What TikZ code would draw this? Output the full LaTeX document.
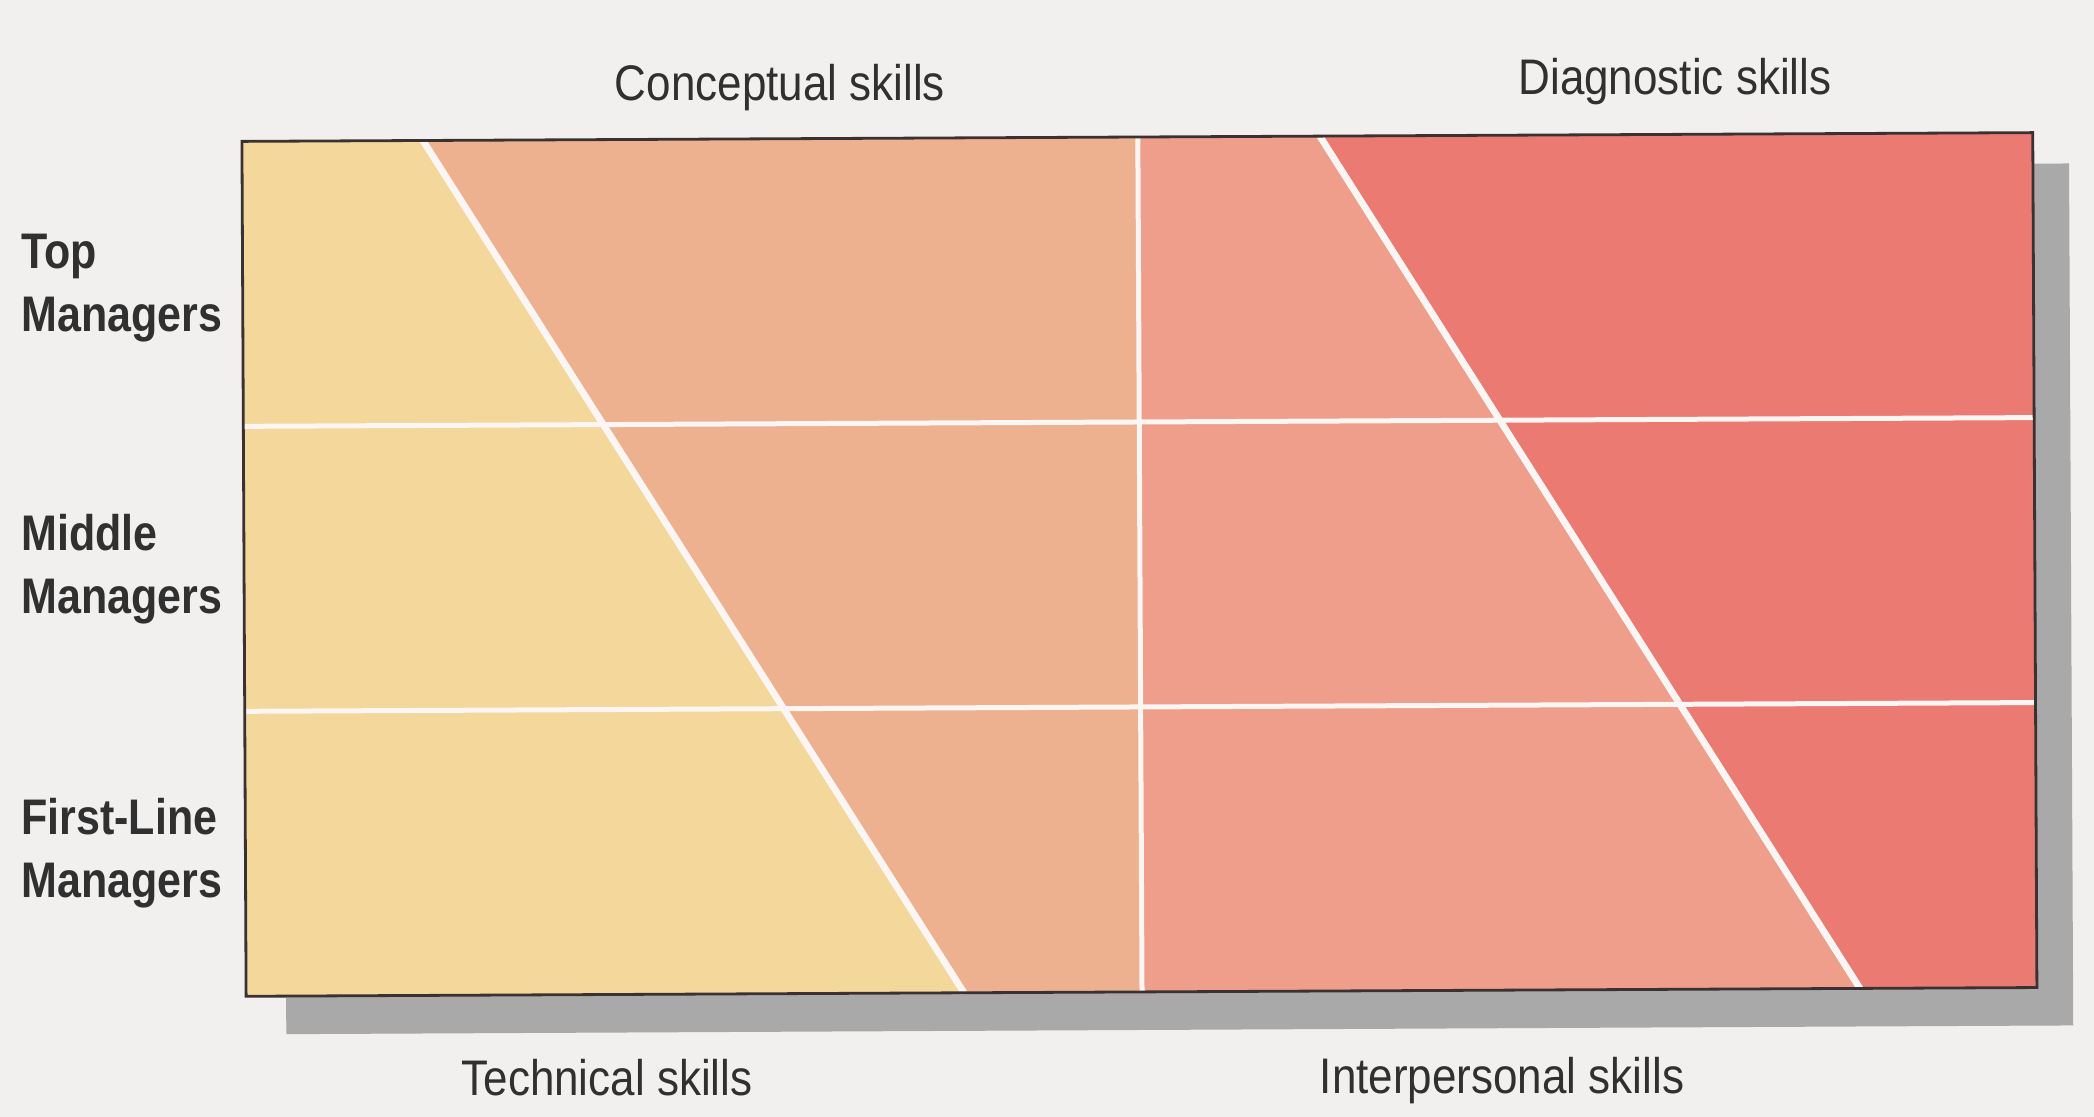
\documentclass[tikz,border=0pt]{standalone}
\usepackage{fontspec}
\newfontfamily\colfont[FakeStretch=0.88]{Liberation Sans}
\newfontfamily\rowfont[FakeStretch=0.86]{Liberation Sans}
\definecolor{pagebg}{HTML}{F1F0EF}
\definecolor{shadowgray}{HTML}{A9A9A9}
\definecolor{techcol}{HTML}{F4D79A}
\definecolor{conccol}{HTML}{EEB18F}
\definecolor{intercol}{HTML}{EE9E8A}
\definecolor{diagcol}{HTML}{EA7A72}
\definecolor{linewhite}{HTML}{FBF6F3}
\definecolor{framecol}{HTML}{3A3232}
\definecolor{textcol}{HTML}{303030}
\begin{document}
\begin{tikzpicture}[x=0.5pt,y=-0.5pt,
  collabel/.style={font=\colfont\fontsize{25}{31.5}\selectfont, text=textcol, anchor=base, inner sep=0pt},
  rowlabel/.style={font=\rowfont\bfseries\fontsize{25}{31.5}\selectfont, text=textcol, anchor=base west, align=left, inner sep=0pt},
  gridline/.style={draw=linewhite, line width=2.5pt},
  diagline/.style={draw=linewhite, line width=3.4pt},
  frame/.style={draw=framecol, line width=1.4pt}]
\useasboundingbox (0,0) rectangle (2094,1117);
\fill[pagebg] (0,0) rectangle (2094,1117);
\begin{scope}[rotate around={0.28:(1140,564)}]
  % corner and split coordinates
  \coordinate (tl) at (244,137);
  \coordinate (tr) at (2035,137);
  \coordinate (bl) at (244,992);
  \coordinate (br) at (2035,992);
  \coordinate (d1t) at (425,137);
  \coordinate (d1b) at (962,992);
  \coordinate (d2t) at (1322,137);
  \coordinate (d2b) at (1858,992);
  \coordinate (vt) at (1140,137);
  \coordinate (vb) at (1140,992);
  \coordinate (h1l) at (244,422);
  \coordinate (h1r) at (2035,422);
  \coordinate (h2l) at (244,707);
  \coordinate (h2r) at (2035,707);
  % shadow
  \fill[shadowgray] (284,168) rectangle (2071,1030);
  % regions
  \fill[techcol] (tl) -- (d1t) -- (d1b) -- (bl) -- cycle;
  \fill[conccol] (d1t) -- (vt) -- (vb) -- (d1b) -- cycle;
  \fill[intercol] (vt) -- (d2t) -- (d2b) -- (vb) -- cycle;
  \fill[diagcol] (d2t) -- (tr) -- (br) -- (d2b) -- cycle;
  % grid lines
  \draw[gridline] (h1l) -- (h1r);
  \draw[gridline] (h2l) -- (h2r);
  \draw[gridline] (vt) -- (vb);
  % diagonals
  \draw[diagline] (d1t) -- (d1b);
  \draw[diagline] (d2t) -- (d2b);
  % frame
  \draw[frame] (tl) rectangle (br);
\end{scope}
% column labels
\node[collabel] (concept) at (780,101) {Conceptual skills};
\node[collabel] (diag) at (1675,95) {Diagnostic skills};
\node[collabel] (tech) at (607,1095) {Technical skills};
\node[collabel] (inter) at (1502,1093) {Interpersonal skills};
% row labels (base anchor = baseline of the last line)
\node[rowlabel] (top) at (21,332) {Top\\Managers};
\node[rowlabel] (middle) at (21,613) {Middle\\Managers};
\node[rowlabel] (first) at (21,897) {First-Line\\Managers};
\end{tikzpicture}
\end{document}
